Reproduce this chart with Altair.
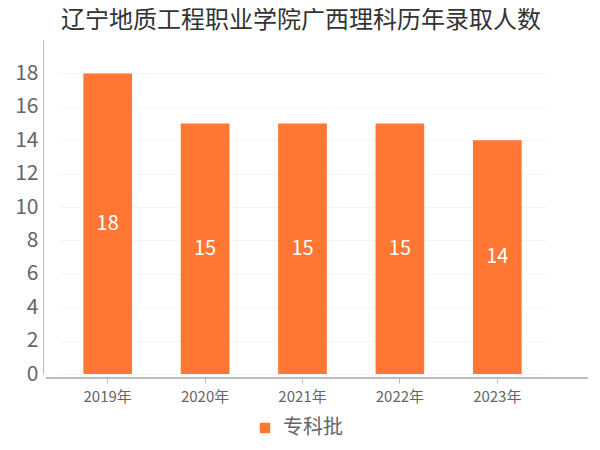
import altair as alt
import pandas as pd

years = ["2019年", "2020年", "2021年", "2022年", "2023年"]
values = [18, 15, 15, 15, 14]
series = "专科批"
title = "辽宁地质工程职业学院广西理科历年录取人数"

df = pd.DataFrame({"year": years, "value": values, "series": [series] * len(years)})
FONT = "Noto Sans CJK SC"
ORANGE = "#ff7733"

x = alt.X("year:N", sort=years, title=None,
          scale=alt.Scale(paddingInner=0.5, paddingOuter=0.25),
          axis=alt.Axis(labelAngle=0, labelFontSize=15, labelColor="#666", labelFont=FONT,
                        domain=False, ticks=True, tickColor="#bbb", tickSize=5, offset=4,
                        labelPadding=6, grid=False))

yaxis = alt.Axis(values=list(range(0, 20, 2)), labelFontSize=21, labelColor="#666",
                 labelFont=FONT, domainColor="#bbb", ticks=False, offset=16,
                 gridColor="#f4f4f4", labelPadding=5, labelOverlap=False)
yscale = alt.Scale(domain=[0, 20], nice=False)

bars = alt.Chart(df).mark_bar(color=ORANGE).encode(
    x=x,
    y=alt.Y("value:Q", title=None, scale=yscale, axis=yaxis),
    color=alt.Color("series:N", scale=alt.Scale(range=[ORANGE]),
                    legend=alt.Legend(title=None, orient="none", legendX=196, legendY=378,
                                      symbolType="square", symbolSize=110, labelFontSize=20,
                                      labelColor="#666", labelFont=FONT, symbolStrokeWidth=0,
                                      labelOffset=8)),
)

labels = alt.Chart(df).transform_calculate(mid="datum.value / 2").mark_text(
    color="white", fontSize=20, font=FONT
).encode(
    x=x,
    y=alt.Y("mid:Q", title=None, scale=yscale, axis=yaxis),
    text=alt.Text("value:Q"),
)

xline = alt.Chart(df).mark_rule(color="#bbb", clip=False).encode(
    x=alt.value(-13), x2=alt.value(529), y=alt.value(338)
)

title_df = pd.DataFrame({"t": [title]})
title_mark = alt.Chart(title_df).mark_text(
    fontSize=24, font=FONT, color="#333", baseline="middle", align="center", clip=False
).encode(text="t:N", x=alt.value(242), y=alt.value(-19))

chart = alt.layer(bars, labels, xline, title_mark).properties(
    width=487, height=334,
    autosize=alt.AutoSizeParams(type="none"),
    padding={"left": 51, "top": 32, "right": 46, "bottom": 76},
).configure_view(stroke=None)

chart.save("out.html", embed_options={"renderer": "svg", "actions": False})
